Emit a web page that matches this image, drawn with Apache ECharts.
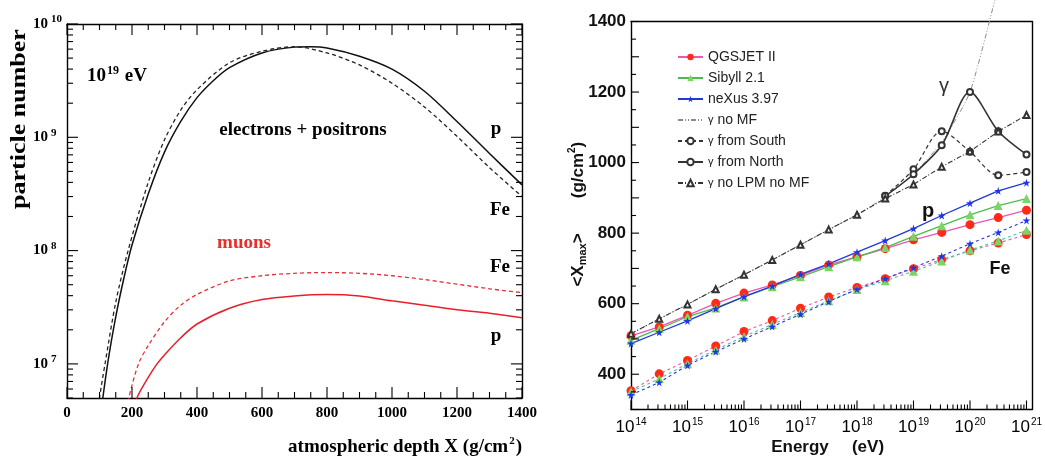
<!DOCTYPE html>
<html><head><meta charset="utf-8">
<script src="https://cdn.jsdelivr.net/npm/echarts@6/dist/echarts.min.js"></script>
<style>html,body{margin:0;padding:0;background:#fff}#c{width:1045px;height:469px}</style>
</head><body><div id="c"></div>
<script>
// ---------- Left panel: shower profiles at 10^19 eV ----------
const depthElP  = [100,125,150,175,200,250,300,350,400,450,500,600,700,750,800,900,1000,1100,1200,1300,1400];
const elP       = [3.0e6,1.0e7,2.6e7,5.7e7,1.12e8,3.16e8,7.4e8,1.38e9,2.24e9,3.16e9,4.12e9,5.55e9,6.25e9,6.3e9,6.15e9,5.2e9,4.0e9,2.55e9,1.38e9,7.2e8,3.8e8];
const depthElFe = [90,100,117,150,188,250,300,350,400,500,600,700,800,900,1000,1100,1200,1300,1400];
const elFe      = [2.8e6,5.0e6,1.0e7,3.5e7,1.0e8,4.0e8,9.5e8,1.74e9,2.63e9,4.55e9,5.75e9,6.3e9,5.55e9,4.35e9,3.0e9,1.85e9,1.02e9,5.4e8,3.0e8];
const depthMuP  = [200,215,250,277,300,350,400,500,600,700,800,900,1000,1100,1200,1300,1400];
const muP       = [3.5e6,5.0e6,7.6e6,1.0e7,1.2e7,1.7e7,2.25e7,3.1e7,3.7e7,3.98e7,4.1e7,3.98e7,3.6e7,3.3e7,3.0e7,2.8e7,2.55e7];
const depthMuFe = [180,190,220,250,300,350,400,500,600,700,800,900,1000,1100,1200,1300,1400];
const muFe      = [3.5e6,5.0e6,1.0e7,1.45e7,2.35e7,3.3e7,4.1e7,5.4e7,6.0e7,6.3e7,6.4e7,6.3e7,6.0e7,5.55e7,5.05e7,4.6e7,4.25e7];

// ---------- Right panel: <Xmax> vs energy ----------
const energy = [1e14,3.16e14,1e15,3.16e15,1e16,3.16e16,1e17,3.16e17,1e18,3.16e18,1e19,3.16e19,1e20,3.16e20,1e21];
const qgsP   = [509,534,567,601,630,653,680,710,733,756,781,802,824,844,865];
const sibP   = [496,529,563,588,619,648,676,705,733,759,791,821,852,878,898];
const nexP   = [487,519,551,586,620,650,683,713,746,779,813,850,885,920,943];
const qgsFe  = [353,401,439,480,521,552,587,619,646,671,699,725,750,772,796];
const sibFe  = [350,387,430,469,507,541,575,608,640,665,692,721,752,778,808];
const nexFe  = [341,377,425,464,500,535,570,606,641,671,702,735,770,802,836];
const gNoLPM = [515,557,598,641,682,724,767,810,852,898,938,988,1032,1088,1135];
const energyGam = [3.16e18,1e19,3.16e19,1e20,3.16e20,1e21];
const gNorth = [905,967,1049,1200,1089,1023];
const gSouth = [906,981,1089,1031,964,973];
const energyNoMF = [1e14,3.16e14,1e15,3.16e15,1e16,3.16e16,1e17,3.16e17,1e18,3.16e18,1e19,3.16e19,1e20,3.16e20];
const gNoMF  = [515,557,598,641,682,724,767,810,852,903,968,1058,1200,1500];
const legendNames = ['QGSJET II','Sibyll 2.1','neXus 3.97','γ no MF','γ from South','γ from North','γ no LPM no MF'];
const yTickLabels = [400,600,800,1000,1200,1400];

// axis ranges
const L_XMIN = 0, L_XMAX = 1400, L_YMIN = 5e6, L_YMAX = 1e10;
const R_XMIN = 1e14, R_XMAX = 1.25e21, R_YMIN = 300, R_YMAX = 1400;

const SERIF = 'Liberation Serif';
const SANS = 'Liberation Sans';
const pair = (xs, ys) => xs.map((x, i) => [x, ys[i]]);
function supFmt(v) {
  const l = Math.log10(v), e = Math.round(l);
  if (Math.abs(l - e) > 1e-6) return '';
  return '{b|10}{s|' + e + '}';
}
const plain = (v) => String(v);
const STAR = 'path://M50,0 L61,35 L98,35 L68,57 L79,91 L50,70 L21,91 L32,57 L2,35 L39,35 Z';
const line = () => ({ show: true, onZero: false, lineStyle: { color: '#000', width: 1.4 } });
const noTick = { show: false };
const noLabel = { show: false };
const noSplit = { show: false };

// ---- tick marks (ROOT style, inside the frame), placed through the axes' own scales ----
// side: 0 bottom, 1 top, 2 left, 3 right
function logTicks(d0, d1, lo, hi) {
  const major = [], minor = [];
  for (let d = d0; d <= d1; d++) {
    const base = Math.pow(10, d);
    if (base >= lo && base <= hi) major.push(base);
    for (let m = 2; m <= 9; m++) { const v = m * base; if (v >= lo && v <= hi) minor.push(v); }
  }
  return { major, minor };
}
function linTicks(lo, hi, step, majorStep) {
  const major = [], minor = [];
  for (let v = lo; v <= hi + 1e-9; v += step) ((Math.abs(v / majorStep - Math.round(v / majorStep)) < 1e-9) ? major : minor).push(v);
  return { major, minor };
}
const lx = linTicks(L_XMIN, L_XMAX, 50, 200);
const ly = logTicks(6, 10, L_YMIN, L_YMAX);
const rx = logTicks(14, 21, R_XMIN, R_XMAX);
const ry = linTicks(R_YMIN, R_YMAX, 50, 100);

const leftTicks = [];
[0, 1].forEach(side => {
  lx.major.forEach(v => leftTicks.push([v, L_YMIN, 11, side]));
  lx.minor.forEach(v => leftTicks.push([v, L_YMIN, 6, side]));
});
[2, 3].forEach(side => {
  ly.major.forEach(v => leftTicks.push([L_XMIN, v, 11, side]));
  ly.minor.forEach(v => leftTicks.push([L_XMIN, v, 6, side]));
});
const rightTicks = [];
rx.major.forEach(v => rightTicks.push([v, R_YMIN, 9, 0]));
rx.minor.forEach(v => rightTicks.push([v, R_YMIN, 5, 0]));
ry.major.forEach(v => rightTicks.push([R_XMIN, v, 8, 2]));
ry.minor.forEach(v => rightTicks.push([R_XMIN, v, 5, 2]));

function tickRender(params, api) {
  const p = api.coord([api.value(0), api.value(1)]);
  const len = api.value(2), side = api.value(3);
  const cs = params.coordSys;
  let x1, y1, x2, y2;
  if (side === 0) { x1 = x2 = p[0]; y1 = cs.y + cs.height; y2 = y1 - len; }
  else if (side === 1) { x1 = x2 = p[0]; y1 = cs.y; y2 = cs.y + len; }
  else if (side === 2) { y1 = y2 = p[1]; x1 = cs.x; x2 = cs.x + len; }
  else { y1 = y2 = p[1]; x1 = cs.x + cs.width; x2 = x1 - len; }
  return { type: 'line', shape: { x1, y1, x2, y2 }, style: { stroke: '#000', lineWidth: 1.1 } };
}

const xAxes = [
  { gridIndex: 0, type: 'value', min: L_XMIN, max: L_XMAX, interval: 200, position: 'bottom', axisLine: line(), axisTick: noTick,
    axisLabel: { margin: 8, formatter: plain, fontFamily: SERIF, fontWeight: 'bold', fontSize: 15, color: '#000' }, splitLine: noSplit },
  { gridIndex: 1, type: 'log', logBase: 10, min: R_XMIN, max: R_XMAX, position: 'bottom', axisLine: line(), axisTick: noTick,
    axisLabel: { margin: 8, formatter: supFmt,
      rich: { b: { fontFamily: SANS, fontSize: 17, color: '#000', lineHeight: 20 },
              s: { fontFamily: SANS, fontSize: 10, color: '#000', verticalAlign: 'top', lineHeight: 10, padding: [0, 0, 0, 1] } } },
    splitLine: noSplit },
  { gridIndex: 0, type: 'value', min: L_XMIN, max: L_XMAX, interval: 200, position: 'top', axisLine: line(), axisTick: noTick, axisLabel: noLabel, splitLine: noSplit },
  { gridIndex: 1, type: 'log', logBase: 10, min: R_XMIN, max: R_XMAX, position: 'top', axisLine: line(), axisTick: noTick, axisLabel: noLabel, splitLine: noSplit }
];

const yAxes = [
  { gridIndex: 0, type: 'log', logBase: 10, min: L_YMIN, max: L_YMAX, position: 'left', axisLine: line(), axisTick: noTick,
    axisLabel: { align: 'left', margin: 34, formatter: supFmt,
      rich: { b: { fontFamily: SERIF, fontWeight: 'bold', fontSize: 15, color: '#000', lineHeight: 20 },
              s: { fontFamily: SERIF, fontWeight: 'bold', fontSize: 11, color: '#000', verticalAlign: 'top', lineHeight: 11, padding: [0, 0, 0, 3] } } },
    splitLine: noSplit },
  { gridIndex: 1, type: 'value', min: R_YMIN, max: R_YMAX, interval: 100, position: 'left', axisLine: line(), axisTick: noTick,
    axisLabel: { margin: 5, formatter: (v) => (yTickLabels.indexOf(v) >= 0 ? String(v) : ''), fontFamily: SANS, fontWeight: 'bold', fontSize: 17, color: '#111' },
    splitLine: noSplit },
  { gridIndex: 0, type: 'log', logBase: 10, min: L_YMIN, max: L_YMAX, position: 'right', axisLine: line(), axisTick: noTick, axisLabel: noLabel, splitLine: noSplit },
  { gridIndex: 1, type: 'value', min: R_YMIN, max: R_YMAX, position: 'right', axisLine: line(), axisTick: noTick, axisLabel: noLabel, splitLine: noSplit }
];

const L = (name, xs, ys, color, type, width) => ({
  name: name, type: 'line', xAxisIndex: 0, yAxisIndex: 0, data: pair(xs, ys), symbol: 'none',
  smooth: 0.3, lineStyle: { color: color, type: type, width: width }, z: 3
});
const R = (name, xs, ys, opt) => Object.assign({
  name: name, type: 'line', xAxisIndex: 1, yAxisIndex: 1, data: pair(xs, ys), z: 3
}, opt);

const pinkLine = '#e956b4', redDot = '#ff2a1a';
const greenLine = '#4cbc4c', greenTri = '#7bd468', cyanLine = '#4cc3a0';
const blueLine = '#2438d8', blueStar = '#1f35e6';
const gray = '#333';

const series = [
  L('e p', depthElP, elP, '#111', 'solid', 1.5),
  L('e Fe', depthElFe, elFe, '#222', [4, 3], 1.3),
  L('mu p', depthMuP, muP, '#e8202a', 'solid', 1.5),
  L('mu Fe', depthMuFe, muFe, '#e8303a', [4, 3], 1.3),

  R('QGSJET II', energy, qgsP, { symbol: 'circle', symbolSize: 9, itemStyle: { color: redDot }, lineStyle: { color: pinkLine, width: 1.3 } }),
  R('Sibyll 2.1', energy, sibP, { symbol: 'triangle', symbolSize: 9, itemStyle: { color: greenTri }, lineStyle: { color: greenLine, width: 1.3 } }),
  R('neXus 3.97', energy, nexP, { symbol: STAR, symbolSize: 8, itemStyle: { color: blueStar }, lineStyle: { color: blueLine, width: 1.3 } }),
  R('QGSJET II', energy, qgsFe, { symbol: 'circle', symbolSize: 9, itemStyle: { color: redDot }, lineStyle: { color: pinkLine, type: [3, 3], width: 1.1 } }),
  R('Sibyll 2.1', energy, sibFe, { symbol: 'triangle', symbolSize: 9, itemStyle: { color: greenTri }, lineStyle: { color: cyanLine, type: [3, 3], width: 1.1 } }),
  R('neXus 3.97', energy, nexFe, { symbol: STAR, symbolSize: 8, itemStyle: { color: blueStar }, lineStyle: { color: blueLine, type: [3, 3], width: 1.1 } }),
  R('γ no MF', energyNoMF, gNoMF, { symbol: 'none', smooth: 0.2, clip: false, itemStyle: { color: 'rgba(0,0,0,0)', borderWidth: 0 }, lineStyle: { color: '#8a8a8a', type: [5, 2, 1, 2, 1, 2], width: 1 } }),
  R('γ from South', energyGam, gSouth, { symbol: 'emptyCircle', symbolSize: 6, smooth: 0.3, itemStyle: { color: gray, borderWidth: 1.3 }, lineStyle: { color: gray, type: [4, 3], width: 1.2 } }),
  R('γ from North', energyGam, gNorth, { symbol: 'emptyCircle', symbolSize: 6, smooth: 0.3, itemStyle: { color: gray, borderWidth: 1.3 }, lineStyle: { color: gray, width: 1.6 } }),
  R('γ no LPM no MF', energy, gNoLPM, { symbol: 'emptyTriangle', symbolSize: 6, itemStyle: { color: gray, borderWidth: 1 }, lineStyle: { color: gray, type: [5, 2, 1, 2], width: 1.1 } }),

  { type: 'custom', xAxisIndex: 0, yAxisIndex: 0, data: leftTicks, renderItem: tickRender, silent: true, z: 5, clip: false, tooltip: { show: false } },
  { type: 'custom', xAxisIndex: 1, yAxisIndex: 1, data: rightTicks, renderItem: tickRender, silent: true, z: 5, clip: false, tooltip: { show: false } }
];

const txt = (x, y, text, o) => ({
  type: 'text', x: x, y: y, z: 10, rotation: o.rotation || 0, scaleX: o.scaleX || 1,
  style: Object.assign({ text: text, fill: o.color || '#000', fontFamily: o.family || SERIF, fontWeight: o.weight || 'bold',
    fontSize: o.size || 19, align: o.align || 'center', verticalAlign: 'middle',
    textAlign: o.align || 'center', textVerticalAlign: 'middle' }, o.rich ? { rich: o.rich } : {})
});
const serifRich = (fs, ss) => ({
  a: { fontFamily: SERIF, fontWeight: 'bold', fontSize: fs, fill: '#000', lineHeight: fs + 4 },
  s: { fontFamily: SERIF, fontWeight: 'bold', fontSize: ss, fill: '#000', verticalAlign: 'top', lineHeight: ss, padding: [0, 1, 0, 1] }
});
const sansRich = (fs, ss) => ({
  a: { fontFamily: SANS, fontWeight: 'bold', fontSize: fs, fill: '#111', lineHeight: fs + 4 },
  m: { fontFamily: SANS, fontWeight: 'bold', fontSize: ss, fill: '#111', verticalAlign: 'bottom', lineHeight: ss },
  s: { fontFamily: SANS, fontWeight: 'bold', fontSize: ss, fill: '#111', verticalAlign: 'top', lineHeight: ss }
});

const graphic = [
  txt(20, 119, 'particle number', { rotation: Math.PI / 2, size: 20, scaleX: 1.3 }),
  txt(522, 447, '{a|atmospheric depth X (g/cm}{s|2}{a|)}', { align: 'right', rich: serifRich(19, 11) }),
  txt(87, 76, '{a|10}{s|19}{a| eV}', { align: 'left', rich: serifRich(19, 12) }),
  txt(303, 130, 'electrons + positrons', { size: 19 }),
  txt(244, 243, 'muons', { size: 19, color: '#e8302a' }),
  txt(496, 129, 'p', { size: 19 }),
  txt(500, 210, 'Fe', { size: 19 }),
  txt(500, 267, 'Fe', { size: 19 }),
  txt(496, 336, 'p', { size: 19 }),
  txt(800, 447, 'Energy', { family: SANS, size: 17, color: '#111' }),
  txt(868, 447, '(eV)', { family: SANS, size: 17, color: '#111' }),
  txt(578, 260, '{a|<X}{m|max}{a|>}', { rotation: Math.PI / 2, rich: sansRich(17, 11) }),
  txt(578, 170, '{a|(g/cm}{s|2}{a|)}', { rotation: Math.PI / 2, rich: sansRich(17, 10) }),
  txt(944, 86, 'γ', { family: SANS, weight: 'normal', size: 20, color: '#333' }),
  txt(928, 211, 'p', { family: SANS, size: 20, color: '#111' }),
  txt(1000, 269, 'Fe', { family: SANS, size: 18, color: '#111' })
];

const chart = echarts.init(document.getElementById('c'));
chart.setOption({
  animation: false,
  grid: [
    { left: 67, top: 24, width: 455, height: 374 },
    { left: 631, top: 21.5, width: 402, height: 388 }
  ],
  xAxis: xAxes,
  yAxis: yAxes,
  legend: {
    data: legendNames, orient: 'vertical', left: 672, top: 45, itemWidth: 25, itemHeight: 8, itemGap: 7,
    textStyle: { fontFamily: SANS, fontSize: 14, color: '#222', lineHeight: 14, rich: { g: { fontFamily: SANS, fontSize: 11, color: '#222' } } },
    formatter: (n) => n.replace('γ', '{g|γ}'),
    selectedMode: false
  },
  series: series,
  graphic: graphic
});
</script>
</body></html>
